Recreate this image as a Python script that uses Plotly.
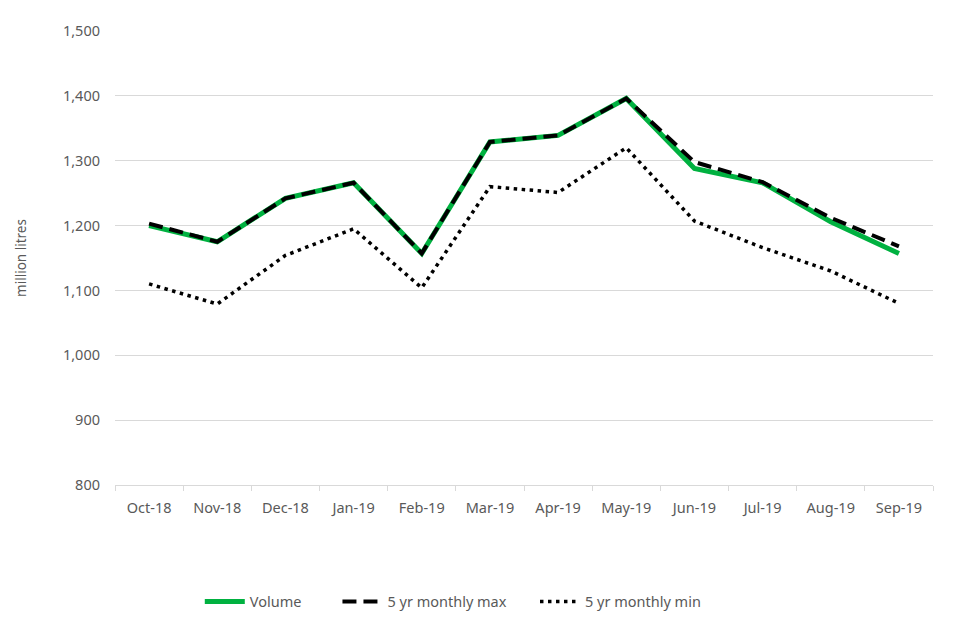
import plotly.graph_objects as go

months = ["Oct-18", "Nov-18", "Dec-18", "Jan-19", "Feb-19", "Mar-19",
          "Apr-19", "May-19", "Jun-19", "Jul-19", "Aug-19", "Sep-19"]
volume = [1200, 1175, 1242, 1266, 1157, 1329, 1339, 1396, 1288, 1266, 1206, 1157]
max5 = [1203, 1175, 1242, 1266, 1157, 1329, 1339, 1396, 1298, 1267, 1212, 1168]
min5 = [1110, 1079, 1154, 1195, 1104, 1260, 1251, 1320, 1207, 1166, 1130, 1080]

FS = 14.5
TXT = "#595959"

fig = go.Figure()
fig.add_trace(go.Scatter(x=months, y=volume, mode="lines", name="Volume",
                         line=dict(color="#00B140", width=5), legend="legend"))
fig.add_trace(go.Scatter(x=months, y=max5, mode="lines", name="5 yr monthly max",
                         line=dict(color="black", width=4, dash="14px,7px"), legend="legend2"))
fig.add_trace(go.Scatter(x=months, y=min5, mode="lines", name="5 yr monthly min",
                         line=dict(color="black", width=3.5, dash="3.5px,4.5px"), legend="legend3"))

def leg(xpx):
    return dict(orientation="h", x=(xpx - 113) / 820, xanchor="left",
                y=(485 - 604) / 463, yanchor="middle",
                font=dict(size=FS, color=TXT), itemwidth=40,
                bgcolor="rgba(0,0,0,0)")

fig.update_layout(
    width=952, height=632,
    margin=dict(l=105, r=27, t=14, b=155),
    paper_bgcolor="white", plot_bgcolor="white",
    font=dict(family="Noto Sans, Open Sans, sans-serif", size=FS, color=TXT),
    showlegend=True,
    legend=leg(198),
    legend2=leg(336),
    legend3=leg(534),
    xaxis=dict(type="category", range=[-0.5, 11.5], showgrid=False, showline=True,
               linecolor="#d9d9d9", linewidth=1, ticks="outside",
               tickson="boundaries", ticklen=5, tickcolor="#d9d9d9",
               ticklabelstandoff=10, tickfont=dict(size=FS, color=TXT)),
    yaxis=dict(range=[800, 1500], dtick=100, tickformat=",", showgrid=True,
               gridcolor="#d9d9d9", gridwidth=1, zeroline=False, showline=False,
               ticks="", ticklabelstandoff=14,
               title=dict(text="million litres", standoff=33,
                          font=dict(size=13.5, color=TXT)),
               tickfont=dict(size=FS, color=TXT)),
)

fig.write_html("out.html")
